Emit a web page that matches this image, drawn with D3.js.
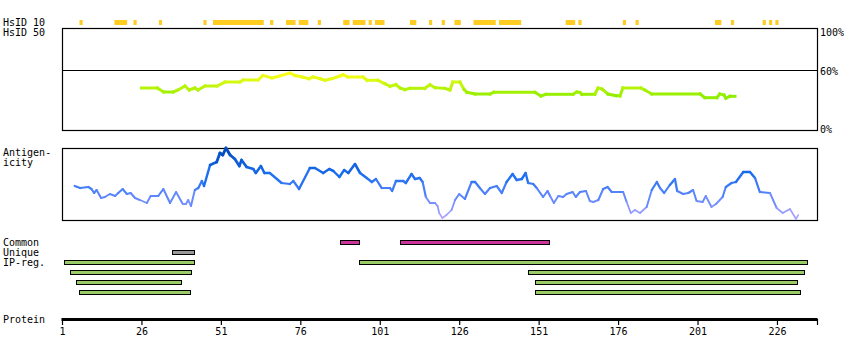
<!DOCTYPE html>
<html><head><meta charset="utf-8">
<script src="https://cdn.jsdelivr.net/npm/d3@7"></script>
<style>
html,body{margin:0;padding:0;background:#fff;}
text{font-family:"DejaVu Sans Mono",monospace;font-size:10px;fill:#000;}
</style></head>
<body>
<svg id="chart" width="850" height="360"></svg>
<script>
// ---------- data ----------
const residueDomain = [1, 238.6];
const axisTicks = [1, 26, 51, 76, 101, 126, 151, 176, 201, 226];
const pctTicks = [100, 60, 0];

const hsid10Blocks = [[7,7],[18,21],[24,24],[32,32],[46,46],[49,64],[67,67],[72,74],[76,78],[82,82],[90,91],[93,96],[98,98],[100,102],[111,112],[117,117],[121,121],[125,126],[131,137],[139,145],[160,162],[164,164],[178,178],[182,182],[207,208],[212,212],[222,222],[224,224],[226,226]];

const hsid50Pos = [26,31,33,36,37.5,39.7,41,42.8,43.8,46,49.8,52.3,57,58,62.7,64.2,67.1,69.6,72.7,74.3,76.5,78.7,80,82.2,83.8,86,88.5,89.4,91,95.7,97,100.4,102.6,104.2,106.1,107.4,108.9,110.5,115.2,116.8,118.4,121.5,123.1,124,126.2,127.5,128.4,131,135.7,136.9,149.8,151.7,153.3,161.8,163,164,164.6,168.7,169.7,170.9,172.8,175.3,176.6,177.5,183.2,184.4,186.6,201.8,203.3,207.1,208,209.3,209.9,211.2,212.8];
const hsid50Val = [42,42,38,38,40,44,40,42,40,44,44,48,48,50,50,54.5,52,54,57,54.5,53,51.3,53,51.3,49.7,51.3,54,55.3,53,53,49.7,49.7,46.3,43.7,45.3,42,40.3,41.7,41.7,45.3,42.3,41.7,40,48,48,40.7,37.7,36,36,37.7,37.7,34,35.7,35.7,38,37.5,35.7,35.7,42,41,36,34.3,34,42,42,40,36,36,32.3,32.3,36,35,31.7,33.7,33.7];

const antigenPos = [5,6.7,9.3,10.3,11.1,11.9,13.3,14.5,16.1,17.7,18.7,20.1,21.4,22.6,24,25.5,27.7,28.9,31.3,32.9,35,36.9,39,40,40.7,41.6,42.8,43.9,45,45.7,47.6,49.7,50.7,51.6,52.6,53.9,55.4,56.8,57.5,59.1,61.2,62,63.6,64.7,66.4,70.1,72.7,73.8,75.6,79,80.6,83.2,85.1,86.4,88.3,89.8,91.1,93.2,94.8,96.9,98.5,99.8,101.6,104.2,104.9,106.1,108.4,109.2,111,112.1,113.6,114.5,115.5,116.8,118.4,119.2,119.7,120.7,122,123.6,124.7,126,127.8,129.9,131,132.5,134.1,135.7,137.8,139.4,140.9,142.8,144.1,145.7,146.9,147.7,149.3,150.4,152.4,153.8,154.6,155.8,157.2,158.7,159.8,161.7,162.7,164,165.9,167.1,168.2,169.8,171.3,172.7,174,177.6,178.7,180,181.3,182.9,185,186.6,188.2,189.2,190.5,192.3,193.9,194.6,196.5,198.1,199.6,200.7,202.6,203.6,205.4,206.8,208.9,209.9,211.7,213.1,215.4,217.5,219.1,220.6,223.8,225.9,227.8,230.1,232,232.7];
const antigenVal = [34,32,33,31,27,30,22,23,26,24,27,31,26,27,22,20,17,24,24,31,17,28,16,16,20,14,30,32,39,34,55,58,67,65,72,65,61,54,60,53,51,47,54,47,47,37,36,39,31,52,52,47,51,49,43,50,47,56,47,42,38,41,32,32,29,39,39,37,46,41,42,38,23,17,17,14,7,2,5,10,20,26,21,38,38,32,26,32,34,27,38,46,40,41,47,37,36,32,23,29,24,17,24,23,26,28,23,28,29,19,18,20,31,33,28,28,18,7,10,7,13,30,38,32,27,35,41,29,26,27,30,19,18,24,13,16,23,33,37,38,48,48,42,28,27,12,7,11,1,5];

const commonBars = [[88.5,94.5],[107.5,154.5]];
const uniqueBars = [[35.5,42.5]];
const ipRegRows = [
  [[1.5,42.5],[94.5,235.5]],
  [[3.5,41.5],[147.5,234.5]],
  [[5.5,38.5],[150,232.5]],
  [[6.5,41.5],[150,233.5]]
];

// ---------- drawing ----------
const svg = d3.select("#chart");
const x = d3.scaleLinear().domain(residueDomain).range([62, 817]);
const yPct = d3.scaleLinear().domain([0, 100]).range([130, 30]);
const yPctLabel = d3.scaleLinear().domain([0, 100]).range([133, 35.5]);
const yAnt = d3.scaleLinear().domain([0, 72]).range([220, 148]);

// left labels
const labels = [["HsID 10",3,26],["HsID 50",3,36],["Antigen-",3,156],["icity",3,166],
  ["Common",3,246],["Unique",3,256],["IP-reg.",3,266],["Protein",3,323]];
svg.selectAll("text.lab").data(labels).enter().append("text")
  .attr("class","lab").attr("x",d=>d[1]).attr("y",d=>d[2]).text(d=>d[0]);

// HsID 10 blocks
svg.append("g").selectAll("rect").data(hsid10Blocks).enter().append("rect")
  .attr("x", d => x(d[0]-0.5)).attr("width", d => x(d[1]+0.5)-x(d[0]-0.5))
  .attr("y", 20).attr("height", 5).attr("fill", "#ffcc22");

// HsID 50 panel
svg.append("rect").attr("x",62.5).attr("y",28.5).attr("width",755).attr("height",102)
  .attr("fill","none").attr("stroke","#000").attr("stroke-width",1.2);
svg.append("line").attr("x1",62).attr("x2",817).attr("y1",yPct(60)+0.5).attr("y2",yPct(60)+0.5)
  .attr("stroke","#000").attr("stroke-width",1.2);
svg.selectAll("text.pct").data(pctTicks).enter().append("text").attr("class","pct")
  .attr("x",820).attr("y",d=>yPctLabel(d)).text(d=>d+"%");

const hsColor = d3.scaleLinear().domain([34, 57]).range(["#90ee00", "#ffff1a"]).clamp(true);
const hsLine = d3.line().x(d=>x(d[0])).y(d=>yPct(d[1]));
const hsPts = hsid50Pos.map((p,i)=>[p, hsid50Val[i]]);
svg.append("g").selectAll("path").data(d3.pairs(hsPts)).enter().append("path")
  .attr("d", d => hsLine(d)).attr("fill","none")
  .attr("stroke", d => hsColor((d[0][1]+d[1][1])/2))
  .attr("stroke-width", 3).attr("stroke-linecap","square");

// Antigenicity panel
svg.append("rect").attr("x",62.5).attr("y",148.5).attr("width",755).attr("height",72)
  .attr("fill","none").attr("stroke","#000").attr("stroke-width",1.2);
const antColor = d3.scaleLinear().domain([0, 20, 45, 72])
  .range(["#b8a8ff", "#6c8cff", "#1a6ef0", "#0048b8"]).clamp(true);
const antWidth = d3.scaleLinear().domain([0, 72]).range([1.5, 3]).clamp(true);
const antLine = d3.line().x(d=>x(d[0])).y(d=>yAnt(d[1]));
const antPts = antigenPos.map((p,i)=>[p, antigenVal[i]]);
svg.append("g").selectAll("path").data(d3.pairs(antPts)).enter().append("path")
  .attr("d", d => antLine(d)).attr("fill","none")
  .attr("stroke", d => antColor((d[0][1]+d[1][1])/2))
  .attr("stroke-width", d => antWidth((d[0][1]+d[1][1])/2)).attr("stroke-linecap","round");

// feature bars
function bars(data, y, fill) {
  svg.append("g").selectAll("rect").data(data).enter().append("rect")
    .attr("x", d => Math.round(x(d[0]))+0.5).attr("width", d => Math.round(x(d[1]) - x(d[0])))
    .attr("y", y+0.5).attr("height", 4)
    .attr("fill", fill).attr("stroke", "#000").attr("stroke-width", 1)
    .attr("shape-rendering","crispEdges");
}
bars(commonBars, 240, "#cc3399");
bars(uniqueBars, 250, "#999999");
ipRegRows.forEach((row, i) => bars(row, 260 + i*10, "#99cc66"));

// protein axis
const axis = d3.axisBottom(x).tickValues(axisTicks.concat([residueDomain[1]]))
  .tickFormat(d => axisTicks.includes(d) ? d : "").tickSize(6).tickSizeOuter(0).tickPadding(3);
const ag = svg.append("g").attr("transform","translate(0,319)").call(axis);
ag.select(".domain").remove();
ag.selectAll(".tick line").attr("stroke","#000").attr("stroke-width",1.2);
ag.selectAll(".tick text").style("font-family","'DejaVu Sans Mono',monospace").style("font-size","10px").attr("fill","#000");
ag.append("line").attr("x1",x.range()[0]-0.5).attr("x2",x.range()[1]+0.5).attr("y1",0.5).attr("y2",0.5)
  .attr("stroke","#000").attr("stroke-width",3);
</script>
</body></html>
